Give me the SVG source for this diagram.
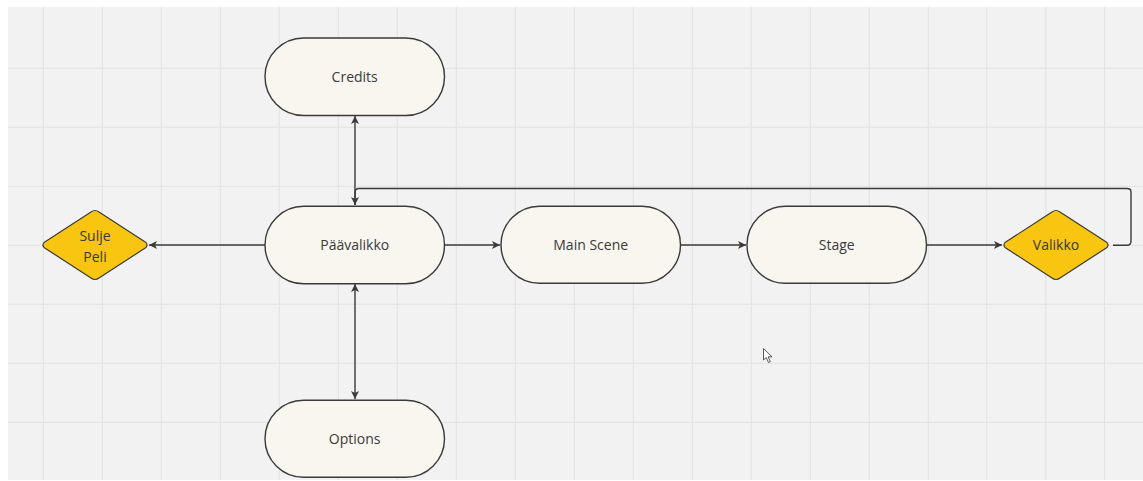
<svg xmlns="http://www.w3.org/2000/svg" width="1143" height="481" viewBox="0 0 1143 481">
<style>
.grid line{stroke:#e2e2e2;stroke-width:1}
.term{fill:#f9f6f0;stroke:#3a3a3a;stroke-width:1.4}
.dec{fill:#f8c510;stroke:#3a3a3a;stroke-width:1.2;stroke-linejoin:round}
.lbl{font-family:"Open Sans","Noto Sans","Liberation Sans",sans-serif;font-size:14px;fill:#3a3a3a;text-anchor:middle}
.conn{fill:none;stroke:#3a3a3a;stroke-width:1.4}
</style>
<defs>
<marker id="ah" viewBox="0 0 10 10" refX="10" refY="5" markerWidth="8" markerHeight="8" markerUnits="userSpaceOnUse" orient="auto-start-reverse">
<path d="M0,0 L10,5 L0,10 L2.5,5 z" fill="#3a3a3a"/>
</marker>
</defs>
<rect x="0" y="0" width="1143" height="481" fill="#ffffff"/>
<rect x="8" y="7" width="1135" height="473" fill="#f2f2f2"/>
<g class="grid">
<line x1="43.3" y1="7" x2="43.3" y2="480"/><line x1="102.3" y1="7" x2="102.3" y2="480"/><line x1="161.3" y1="7" x2="161.3" y2="480"/><line x1="220.3" y1="7" x2="220.3" y2="480"/><line x1="279.3" y1="7" x2="279.3" y2="480"/><line x1="338.3" y1="7" x2="338.3" y2="480"/><line x1="397.3" y1="7" x2="397.3" y2="480"/><line x1="456.3" y1="7" x2="456.3" y2="480"/><line x1="515.3" y1="7" x2="515.3" y2="480"/><line x1="574.3" y1="7" x2="574.3" y2="480"/><line x1="633.3" y1="7" x2="633.3" y2="480"/><line x1="692.3" y1="7" x2="692.3" y2="480"/><line x1="751.3" y1="7" x2="751.3" y2="480"/><line x1="810.3" y1="7" x2="810.3" y2="480"/><line x1="869.3" y1="7" x2="869.3" y2="480"/><line x1="928.3" y1="7" x2="928.3" y2="480"/><line x1="986.8" y1="7" x2="986.8" y2="480"/><line x1="1045.8" y1="7" x2="1045.8" y2="480"/><line x1="1104.5" y1="7" x2="1104.5" y2="480"/>
<line x1="8" y1="68.3" x2="1143" y2="68.3"/><line x1="8" y1="127.3" x2="1143" y2="127.3"/><line x1="8" y1="186.3" x2="1143" y2="186.3"/><line x1="8" y1="245.3" x2="1143" y2="245.3"/><line x1="8" y1="304.3" x2="1143" y2="304.3"/><line x1="8" y1="363.3" x2="1143" y2="363.3"/><line x1="8" y1="422.3" x2="1143" y2="422.3"/>
</g>
<g id="connectors">
<path class="conn" d="M265,245 H149" marker-end="url(#ah)"/>
<path class="conn" d="M445,245 H500" marker-end="url(#ah)"/>
<path class="conn" d="M681,245 H746" marker-end="url(#ah)"/>
<path class="conn" d="M927,245 H1002" marker-end="url(#ah)"/>
<path class="conn" d="M355,116 V205" marker-start="url(#ah)" marker-end="url(#ah)"/>
<path class="conn" d="M355,284 V399" marker-start="url(#ah)" marker-end="url(#ah)"/>
<path class="conn" d="M1113,245.3 H1127 Q1131,245.3 1131,241.3 V192 Q1131,188.5 1127,188.5 H359 Q355,188.5 355,192.5 V205"/>
</g>
<g id="credits"><rect class="term" x="265" y="38" width="179.5" height="77.5" rx="38.7"/><text class="lbl" x="354.7" y="82">Credits</text></g>
<g id="paavalikko"><rect class="term" x="265" y="206.3" width="179.5" height="77.5" rx="38.7"/><text class="lbl" x="354.7" y="250">Päävalikko</text></g>
<g id="options"><rect class="term" x="265" y="400.3" width="179.5" height="77" rx="38.5"/><text class="lbl" x="354.7" y="444">Options</text></g>
<g id="mainscene"><rect class="term" x="501" y="206.3" width="179.5" height="77" rx="38.5"/><text class="lbl" x="590.7" y="250">Main Scene</text></g>
<g id="stage"><rect class="term" x="747" y="206.3" width="179.5" height="77" rx="38.5"/><text class="lbl" x="836.7" y="250">Stage</text></g>
<g id="suljepeli"><path class="dec" d="M95,210.5 Q97,210.5 99,212 L146,242.5 Q148,245 146,247.5 L99,278 Q97,279.5 95,279.5 Q93,279.5 91,278 L44,247.5 Q42,245 44,242.5 L91,212 Q93,210.5 95,210.5 z"/><text class="lbl" x="95" y="241">Sulje</text><text class="lbl" x="95" y="262">Peli</text></g>
<g id="valikko"><path class="dec" d="M1056,210.5 Q1058,210.5 1060,212 L1107,242.5 Q1109,245 1107,247.5 L1060,278 Q1058,279.5 1056,279.5 Q1054,279.5 1052,278 L1005,247.5 Q1003,245 1005,242.5 L1052,212 Q1054,210.5 1056,210.5 z"/><text class="lbl" x="1056" y="250">Valikko</text></g>
<path d="M763.5,348.5 V360 L766.3,357.5 L768.5,362.5 L770.3,361.7 L768.2,356.8 L772,356.8 z" fill="#ffffff" stroke="#333" stroke-width="0.8" stroke-linejoin="round"/>
</svg>
